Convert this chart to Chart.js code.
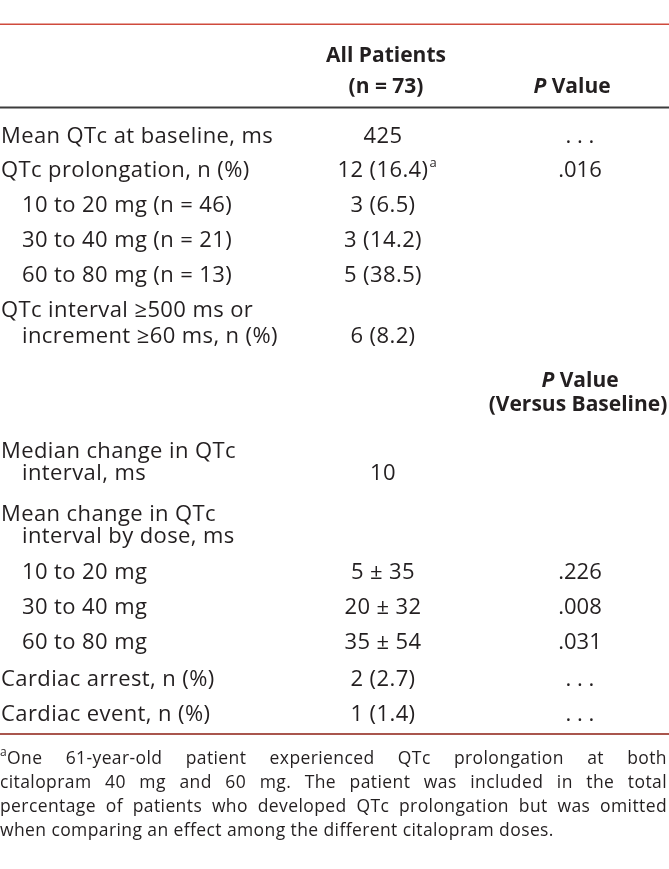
<!DOCTYPE html>
<html>
<head>
<meta charset="utf-8">
<script src="https://cdn.jsdelivr.net/npm/chart.js@4/dist/chart.umd.min.js"></script>
<style>
  html, body { margin: 0; padding: 0; background: #fff; }
  canvas { display: block; }
</style>
</head>
<body>
<canvas id="table" width="669" height="869"></canvas>
<script>
// --- table content ---
var allPatientsHeader = ["All Patients", "(n = 73)"];
var pValueHeader = "Value";
var pValueHeader2 = ["Value", "(Versus Baseline)"];

// each row: label lines (second line is indented)
var rowLabels = [
  ["Mean QTc at baseline, ms"],
  ["QTc prolongation, n (%)"],
  ["10 to 20 mg (n = 46)"],
  ["30 to 40 mg (n = 21)"],
  ["60 to 80 mg (n = 13)"],
  ["QTc interval \u2265500 ms or", "increment \u226560 ms, n (%)"],
  null, // section header: P Value (Versus Baseline)
  ["Median change in QTc", "interval, ms"],
  ["Mean change in QTc", "interval by dose, ms"],
  ["10 to 20 mg"],
  ["30 to 40 mg"],
  ["60 to 80 mg"],
  ["Cardiac arrest, n (%)"],
  ["Cardiac event, n (%)"]
];
var subRows = [2, 3, 4, 9, 10, 11];
var allPatients = ["425", "12 (16.4)", "3 (6.5)", "3 (14.2)", "5 (38.5)", "6 (8.2)", "",
  "10", "", "5 \u00b1 35", "20 \u00b1 32", "35 \u00b1 54", "2 (2.7)", "1 (1.4)"];
var pValues = [". . .", ".016", "", "", "", "", "", "", "", ".226", ".008", ".031", ". . .", ". . ."];
var footnoteMark = "a";
var footnoteLines = [
  "One 61-year-old patient experienced QTc prolongation at both",
  "citalopram 40 mg and 60 mg. The patient was included in the total",
  "percentage of patients who developed QTc prolongation but was omitted",
  "when comparing an effect among the different citalopram doses."
];

// --- layout (pixel scale units) ---
var rowY = [137, 171, 206, 241, 276, [311, 337], [381, 405], [452, 474], [515, 537], 573, 608, 643, 680, 715];
var colLabelX = 1, colIndent = 22, colValueX = 383, colPX = 580;
var FONT = "22px 'Open Sans', sans-serif";
var BOLD = "bold 21px 'Open Sans', sans-serif";
var ITALIC = "italic bold 21px 'Open Sans', sans-serif";
var TEXT = "#231f20";

function drawText(ctx, s, x, y, align, font, spacing) {
  ctx.font = font || FONT;
  ctx.letterSpacing = (spacing === undefined ? 0.4 : spacing) + "px";
  ctx.textAlign = align || "left";
  ctx.fillText(s, x, y);
  ctx.letterSpacing = "0px";
}

// italic P + " Value", centered at cx
function drawPValue(ctx, cx, y, word) {
  ctx.font = ITALIC; var w1 = ctx.measureText("P").width;
  ctx.font = BOLD; var w2 = ctx.measureText(" " + word).width;
  var x0 = cx - (w1 + w2) / 2;
  drawText(ctx, "P", x0, y, "left", ITALIC, 0);
  drawText(ctx, " " + word, x0 + w1, y, "left", BOLD, 0);
}

function justifyLine(ctx, s, x0, x1, y, justify) {
  ctx.textAlign = "left";
  if (!justify) { ctx.fillText(s, x0, y); return; }
  var words = s.split(" ");
  var total = 0;
  words.forEach(function (w) { total += ctx.measureText(w).width; });
  var gap = (x1 - x0 - total) / (words.length - 1);
  var x = x0;
  words.forEach(function (w) {
    ctx.fillText(w, x, y);
    x += ctx.measureText(w).width + gap;
  });
}

var tablePlugin = {
  id: "tableDraw",
  afterDraw: function (chart) {
    var ctx = chart.ctx, xs = chart.scales.x, ys = chart.scales.y;
    var px = function (v) { return xs.getPixelForValue(v); };
    var py = function (v) { return ys.getPixelForValue(v); };
    ctx.save();
    ctx.textBaseline = "middle";

    // rules
    ctx.fillStyle = "#cf4a3c";
    ctx.fillRect(px(0), py(23.5), px(669) - px(0), 1.5);
    ctx.fillStyle = "#3c3c3c";
    ctx.fillRect(px(0), py(106.5), px(669) - px(0), 2);
    ctx.fillStyle = "#a9564d";
    ctx.fillRect(px(0), py(733), px(669) - px(0), 2);
    ctx.fillStyle = TEXT;

    // header
    drawText(ctx, allPatientsHeader[0], px(colValueX + 3), py(56), "center", BOLD, 0);
    drawText(ctx, allPatientsHeader[1], px(colValueX + 3), py(87), "center", BOLD, 0);
    drawPValue(ctx, px(colPX - 8), py(87), pValueHeader);

    rowLabels.forEach(function (lines, i) {
      var ys2 = Array.isArray(rowY[i]) ? rowY[i] : [rowY[i]];
      if (!lines) {
        drawPValue(ctx, px(colPX), py(ys2[0]), pValueHeader2[0]);
        drawText(ctx, pValueHeader2[1], px(colPX - 2), py(ys2[1]), "center", BOLD, 0);
        return;
      }
      var sub = subRows.indexOf(i) >= 0;
      lines.forEach(function (s, k) {
        var x = (sub || k > 0) ? colIndent : colLabelX;
        drawText(ctx, s, px(x), py(ys2[k]), "left");
      });
      var lastY = ys2[ys2.length - 1];
      if (allPatients[i]) {
        drawText(ctx, allPatients[i], px(colValueX), py(lastY), "center");
        if (i === 1) {
          ctx.font = FONT;
          var w = ctx.measureText(allPatients[i]).width + 0.4 * allPatients[i].length;
          drawText(ctx, footnoteMark, px(colValueX) + w / 2 + 1, py(lastY - 8), "left", "13px 'Open Sans', sans-serif", 0);
        }
      }
      if (pValues[i]) drawText(ctx, pValues[i], px(colPX), py(lastY), "center", FONT, 0);
    });

    // footnote
    var ff = "17.5px 'Open Sans', sans-serif";
    var fy = [759, 783, 807, 831];
    drawText(ctx, footnoteMark, px(0), py(fy[0] - 6), "left", "12px 'Open Sans', sans-serif", 0);
    ctx.font = ff;
    ctx.letterSpacing = "0.4px";
    footnoteLines.forEach(function (s, k) {
      var x0 = k === 0 ? px(7) : px(0);
      justifyLine(ctx, s, x0, px(667), py(fy[k]), k < footnoteLines.length - 1);
    });
    ctx.restore();
  }
};

new Chart(document.getElementById("table"), {
  type: "scatter",
  data: { datasets: [{ data: [] }] },
  options: {
    responsive: false,
    animation: false,
    layout: { padding: 0 },
    plugins: { legend: { display: false }, tooltip: { enabled: false } },
    scales: {
      x: { type: "linear", min: 0, max: 669, display: false },
      y: { type: "linear", min: 0, max: 869, reverse: true, display: false }
    }
  },
  plugins: [tablePlugin]
});
</script>
</body>
</html>
